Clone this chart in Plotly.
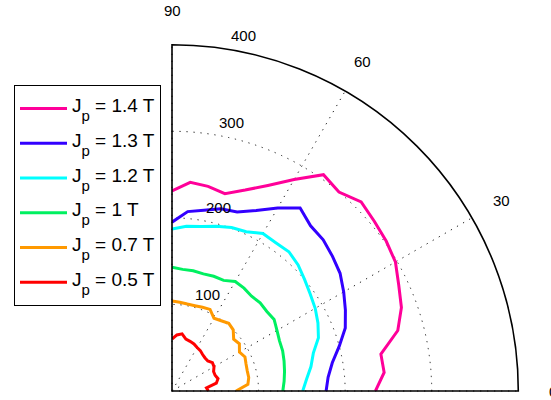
import math
import plotly.graph_objects as go

# angle of each sample (degrees)
theta = [0, 5, 10, 15, 20, 25, 30, 35, 40, 45, 50, 55, 60, 65, 70, 75, 80, 85, 90]

r_14 = [235, 246, 245, 270, 282, 289, 298, 302, 305, 309, 300, 305, 282, 262, 247, 236, 240, 242, 231]
r_13 = [178, 181, 188, 200, 213, 221, 229, 237, 242, 247, 249, 258, 244, 230, 220, 218, 212, 208, 195]
r_12 = [151, 156, 163, 169, 180, 186, 191, 195, 200, 206, 210, 209, 210, 203, 201, 197, 193, 191, 187]
r_10 = [128, 130, 132, 134, 136, 137, 140, 144, 143, 144, 143, 145, 146, 141, 141, 140, 141, 141, 143]
r_07 = [74, 88, 90, 90, 91, 93, 90, 95, 93, 100, 102, 99, 97, 104, 103, 102, 102, 103, 104]
r_05 = [42, 40, 52, 55, 53, 53, 56, 57, 54, 54, 55, 57, 58, 60, 61, 62, 67, 65, 60]

series_names = ["1.4 T", "1.3 T", "1.2 T", "1 T", "0.7 T", "0.5 T"]
series_values = [r_14, r_13, r_12, r_10, r_07, r_05]
series_colors = ["#FF0099", "#3300FF", "#00FFFF", "#00F060", "#FF9900", "#FF0000"]

radial_ticks = [100, 200, 300, 400]
angular_ticks = [0, 30, 60, 90]

W, H = 551, 400
cx, cy, R = 172.0, 391.0, 346.3
RMAX = 400.0
scale = R / RMAX


def to_paper(r, th):
    a = math.radians(th)
    return (cx + r * scale * math.cos(a)) / W, (H - cy + r * scale * math.sin(a)) / H


def legend_label(name):
    return ('<span style="font-size:19px;baseline-shift:6px">J'
            '<span style="font-size:15px;baseline-shift:-9px">p</span>'
            ' = ' + name + '</span>')


fig = go.Figure()

for name, vals, col in zip(series_names, series_values, series_colors):
    fig.add_trace(go.Scatterpolar(
        r=vals, theta=theta, mode="lines",
        line=dict(color=col, width=3),
        name=legend_label(name),
        showlegend=True,
    ))

label_font = dict(family="Liberation Sans, Arial", size=15, color="black")
annotations = []
# radial tick labels (MATLAB style, placed near 80 deg, just beyond each ring)
radial_label_pos = [(119, 70.0), (219, 75.7), (318, 77.5), (419, 78.7)]
for v, (rr, tt) in zip(radial_ticks, radial_label_pos):
    x, y = to_paper(rr, tt)
    annotations.append(dict(x=x, y=y, xref="paper", yref="paper", text=str(v),
                            showarrow=False, xanchor="center", yanchor="middle",
                            font=label_font))
# angular tick labels at 1.1 * rmax
for v in angular_ticks:
    x, y = to_paper(1.1 * RMAX, v)
    annotations.append(dict(x=x, y=y, xref="paper", yref="paper", text=str(v),
                            showarrow=False, xanchor="center", yanchor="middle",
                            font=label_font))

grid_style = dict(showgrid=True, gridcolor="#222222", gridwidth=1.3, griddash="1.3px,5.7px")

fig.update_layout(
    width=W, height=H,
    margin=dict(l=0, r=0, t=0, b=0),
    paper_bgcolor="white",
    plot_bgcolor="white",
    font=dict(family="Liberation Sans, Arial", size=15, color="black"),
    polar=dict(
        domain=dict(x=[cx / W, (cx + R) / W], y=[(H - cy) / H, (H - cy + R) / H]),
        sector=[0, 90],
        bgcolor="white",
        radialaxis=dict(
            range=[0, RMAX], tickvals=radial_ticks, showticklabels=False,
            ticks="", showline=False, **grid_style,
        ),
        angularaxis=dict(
            tickvals=angular_ticks, showticklabels=False, ticks="",
            showline=True, linecolor="black", linewidth=1.6,
            direction="counterclockwise", rotation=0, **grid_style,
        ),
    ),
    legend=dict(
        x=14 / W, y=1 - 85 / H, xanchor="left", yanchor="top",
        bgcolor="white", bordercolor="black", borderwidth=1,
        font=dict(family="Liberation Sans, Arial", size=24.45, color="black"),
        itemwidth=47, tracegroupgap=0,
    ),
    annotations=annotations,
    showlegend=True,
)

fig.write_html("out.html", config={"displayModeBar": False},
               post_script="document.body.style.margin='0';")
